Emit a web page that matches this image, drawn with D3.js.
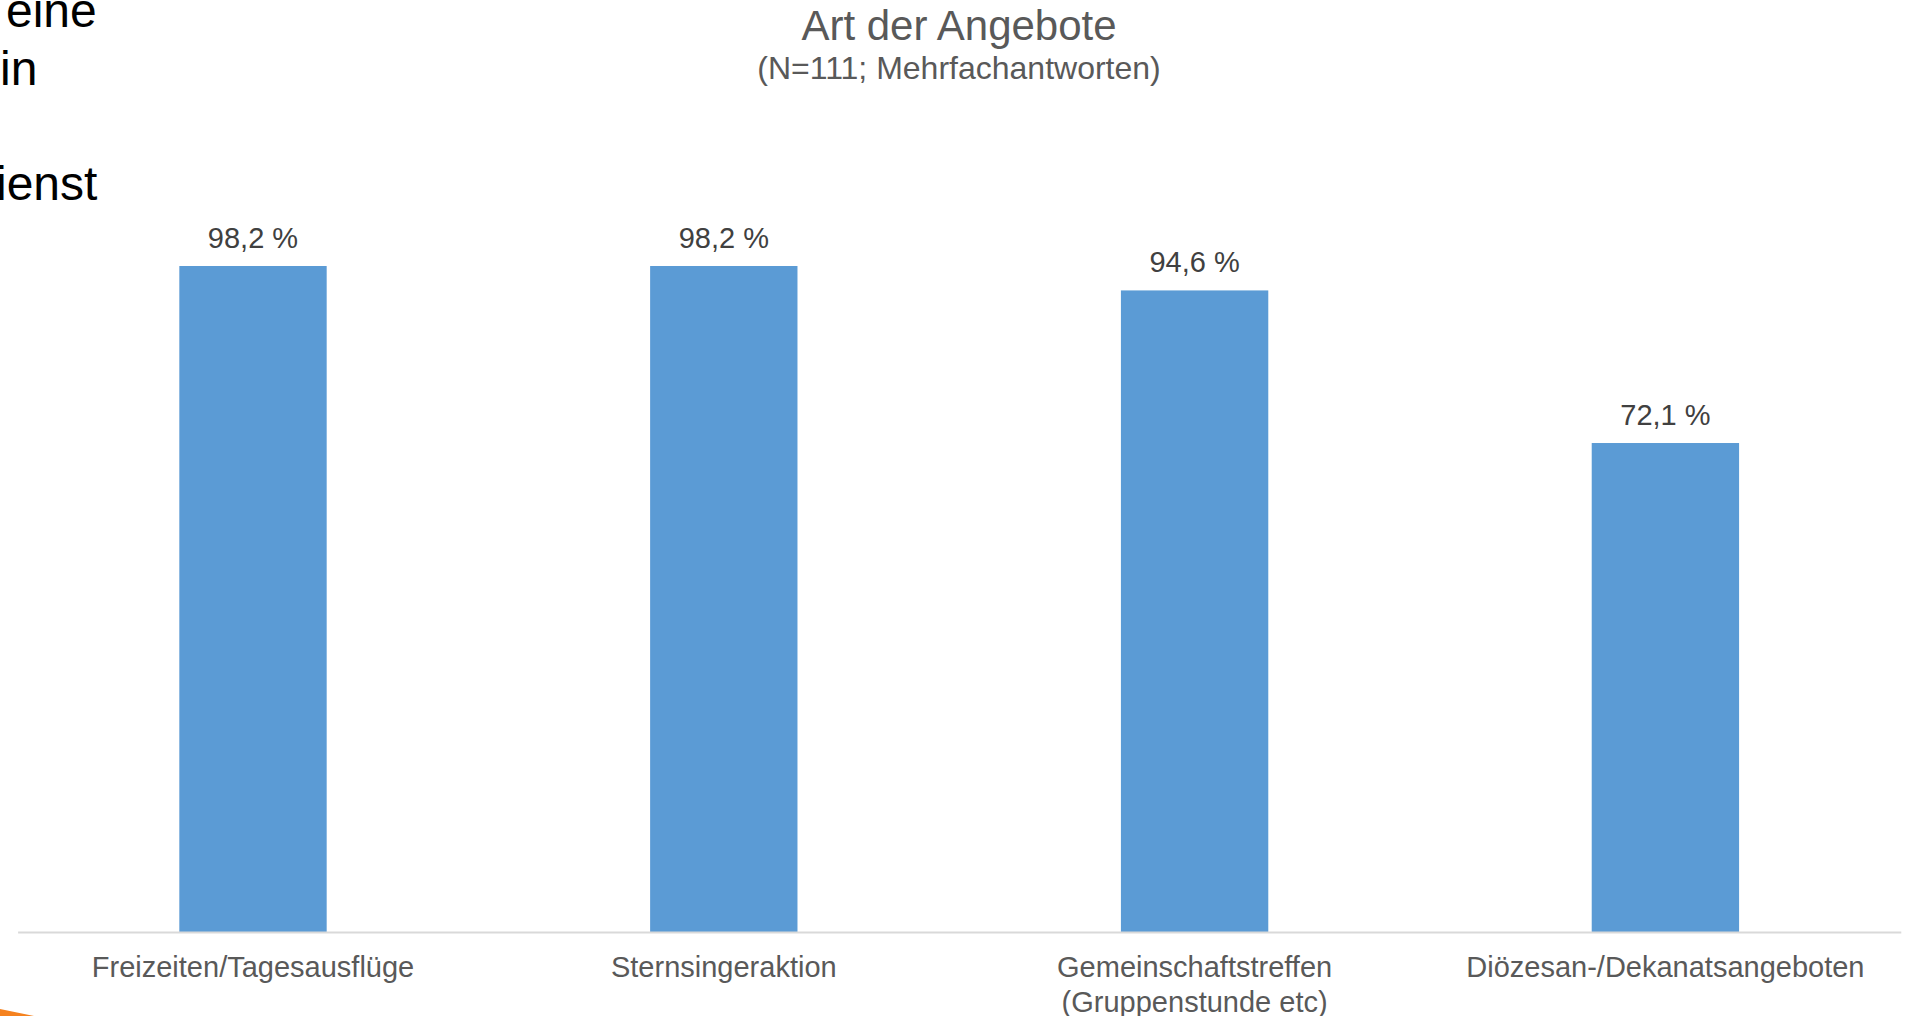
<!DOCTYPE html>
<html>
<head>
<meta charset="utf-8">
<script src="https://cdn.jsdelivr.net/npm/d3@7"></script>
<style>
  body { margin: 0; background: #fff; overflow: hidden; }
  text { font-family: "Liberation Sans", Arial, sans-serif; }
</style>
</head>
<body>
<div id="chart"></div>
<script>
// data
let categories = ["Freizeiten/Tagesausflüge", "Sternsingeraktion", "Gemeinschaftstreffen\n(Gruppenstunde etc)", "Diözesan-/Dekanatsangeboten"];
let values = [98.2, 98.2, 94.6, 72.1];
let valueLabels = ["98,2 %", "98,2 %", "94,6 %", "72,1 %"];
let slideLines = ["eine", "in", "", "ienst"];

let width = 1906;
let height = 1016;

let svg = d3.select("#chart")
  .append("svg")
  .attr("width", width)
  .attr("height", height);

// bits of the slide text behind the chart, cut off on the left
svg.append("g")
  .selectAll("text")
  .data(slideLines)
  .enter()
  .append("text")
  .attr("x", (d, i) => i == 0 ? 6 : (i == 1 ? 0 : -4))
  .attr("y", (d, i) => 27 + i * 57.7)
  .style("font-size", "48px")
  .style("fill", "#000")
  .text(d => d);

// orange corner of the slide
svg.append("path")
  .attr("d", "M0,1009 L34,1016 L0,1016 Z")
  .style("fill", "#f5821f");

// title
svg.append("text")
  .attr("x", 959)
  .attr("y", 40)
  .style("text-anchor", "middle")
  .style("font-size", "42px")
  .style("fill", "#595959")
  .text("Art der Angebote");

svg.append("text")
  .attr("x", 959)
  .attr("y", 79)
  .style("text-anchor", "middle")
  .style("font-size", "32px")
  .style("fill", "#595959")
  .text("(N=111; Mehrfachantworten)");

let x = d3.scaleBand()
  .domain(categories)
  .range([17.6, 1900.8])
  .paddingInner(0.687)
  .paddingOuter(0.3435);

let y = d3.scaleLinear()
  .domain([0, 100])
  .range([932, 253.8]);

let rows = categories.map((c, i) => ({cat: c, value: values[i], label: valueLabels[i]}));

svg.append("g")
  .selectAll("rect")
  .data(rows)
  .enter()
  .append("rect")
  .attr("x", d => x(d.cat))
  .attr("y", d => y(d.value))
  .attr("width", x.bandwidth())
  .attr("height", d => y(0) - y(d.value))
  .style("fill", "#5b9bd5");

svg.append("g")
  .selectAll("text")
  .data(rows)
  .enter()
  .append("text")
  .attr("x", d => x(d.cat) + x.bandwidth() / 2)
  .attr("y", d => y(d.value) - 18)
  .style("text-anchor", "middle")
  .style("font-size", "29px")
  .style("fill", "#404040")
  .text(d => d.label);

// x axis
let xAxis = svg.append("g")
  .attr("transform", "translate(0," + y(0) + ")")
  .call(d3.axisBottom(x).tickSize(0).tickSizeOuter(0));

xAxis.select(".domain")
  .style("stroke", "#d9d9d9")
  .style("stroke-width", 2);

xAxis.selectAll(".tick text").each(function(d) {
  let t = d3.select(this);
  let lines = d.split("\n");
  t.text(null)
    .attr("y", 0)
    .attr("dy", null)
    .style("font-size", "29px")
    .style("font-family", "\"Liberation Sans\", Arial, sans-serif")
    .style("fill", "#595959");
  lines.forEach((ln, i) => {
    t.append("tspan")
      .attr("x", 0)
      .attr("y", 45 + i * 34.5)
      .text(ln);
  });
});
</script>
</body>
</html>
